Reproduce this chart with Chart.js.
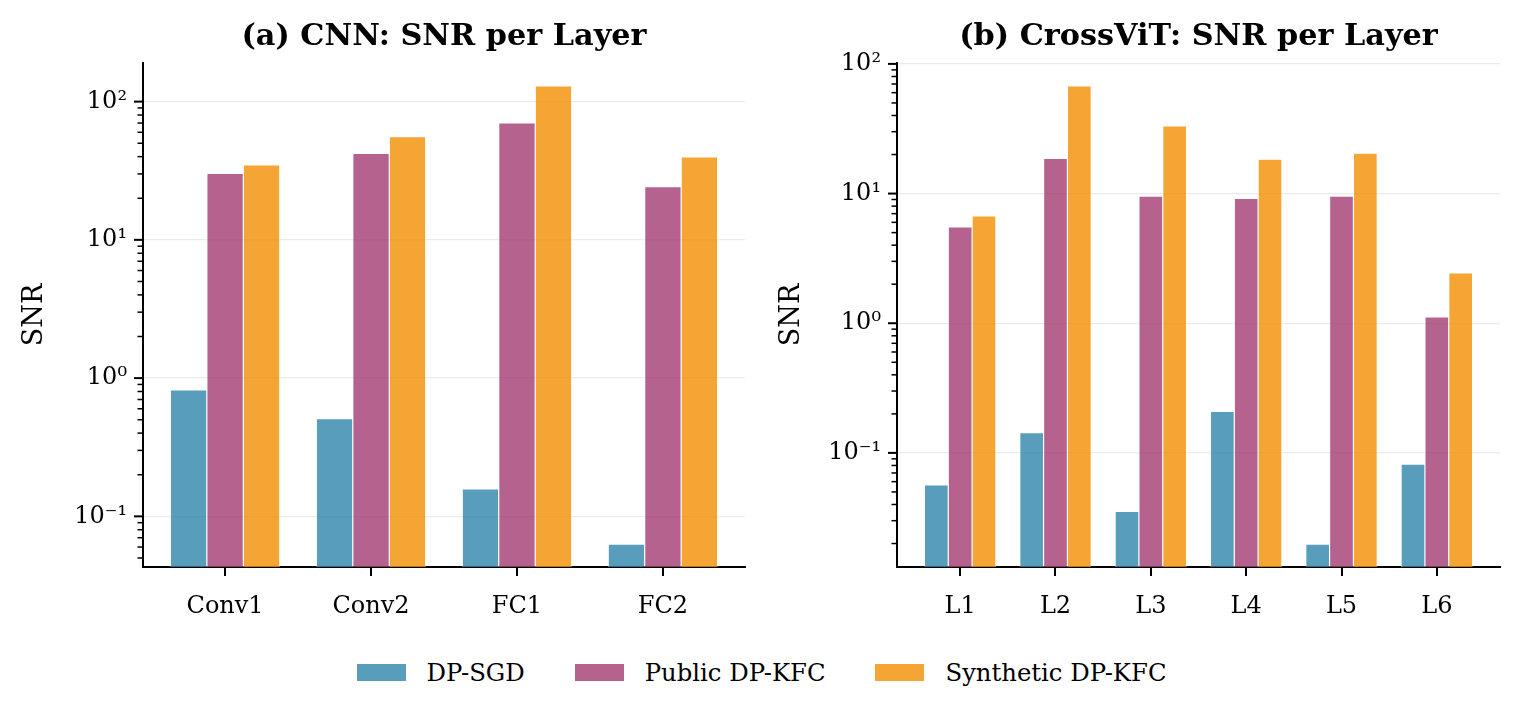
<!DOCTYPE html>
<html>
<head>
<meta charset="utf-8">
<script src="https://cdn.jsdelivr.net/npm/chart.js@4.4.1/dist/chart.umd.min.js"></script>
<style>
    body { margin: 0; background: #fff; }
    #figure { position: relative; width: 1523px; height: 719px; font-family: 'DejaVu Serif', serif; }
    .panel { position: absolute; top: 0; }
    #legend {
        position: absolute; left: 0; top: 659px; width: 1523px; height: 27px;
        display: flex; justify-content: center; align-items: center;
        font-size: 24.3px; color: #000;
    }
    .legend-item { display: flex; align-items: center; margin: 0 25px; }
    .legend-box { width: 49px; height: 17px; margin-right: 21px; }
</style>
</head>
<body>
<div id="figure">
    <div class="panel" style="left:0"><canvas id="cnnChart" width="761" height="640"></canvas></div>
    <div class="panel" style="left:761px"><canvas id="vitChart" width="762" height="640"></canvas></div>
    <div id="legend"></div>
</div>
<script>
const seriesNames = ['DP-SGD', 'Public DP-KFC', 'Synthetic DP-KFC'];
const seriesColors = ['#2E86AB', '#A23B72', '#F18F01'];

const cnnLayers = ['Conv1', 'Conv2', 'FC1', 'FC2'];
const cnnDpSgd = [0.82, 0.51, 0.158, 0.063];
const cnnPublic = [30.3, 42.2, 70.3, 24.3];
const cnnSynthetic = [34.8, 55.7, 130, 39.9];

const vitLayers = ['L1', 'L2', 'L3', 'L4', 'L5', 'L6'];
const vitDpSgd = [0.0566, 0.1435, 0.0354, 0.209, 0.0198, 0.082];
const vitPublic = [5.54, 18.7, 9.57, 9.18, 9.57, 1.12];
const vitSynthetic = [6.72, 67.7, 33.2, 18.4, 20.5, 2.44];

const FONT = 'DejaVu Serif';
const SUP = { '-': '\u207B', '0': '\u2070', '1': '\u00B9', '2': '\u00B2', '3': '\u00B3',
    '4': '\u2074', '5': '\u2075', '6': '\u2076', '7': '\u2077', '8': '\u2078', '9': '\u2079' };

function isDecade(v) {
    const l = Math.log10(v);
    return Math.abs(l - Math.round(l)) < 1e-9;
}

function decadeLabel(v) {
    const exp = String(Math.round(Math.log10(v)));
    return '10' + exp.split('').map(c => SUP[c]).join('');
}

// matplotlib-like 5% margins in log space
function logLimits(values) {
    const logs = values.map(Math.log10);
    const lo = Math.min(...logs), hi = Math.max(...logs);
    const m = (hi - lo) * 0.05;
    return [Math.pow(10, lo - m), Math.pow(10, hi + m)];
}

function logTicks(min, max) {
    const ticks = [];
    for (let e = Math.floor(Math.log10(min)); e <= Math.ceil(Math.log10(max)); e++) {
        for (let j = 1; j <= 9; j++) {
            const v = j * Math.pow(10, e);
            if (v >= min * 0.9999 && v <= max * 1.0001) ticks.push({ value: v, major: j === 1 });
        }
    }
    return ticks;
}

const tickMarks = {
    id: 'tickMarks',
    afterDraw(chart) {
        const { ctx, scales: { x, y } } = chart;
        ctx.save();
        ctx.strokeStyle = '#000';
        ctx.lineWidth = 2;
        x.ticks.forEach(t => {
            const px = Math.round(x.getPixelForValue(t.value));
            ctx.beginPath();
            ctx.moveTo(px, x.top);
            ctx.lineTo(px, x.top + 9);
            ctx.stroke();
        });
        y.ticks.forEach(t => {
            const py = y.getPixelForValue(t.value);
            const major = isDecade(t.value);
            ctx.lineWidth = major ? 2 : 1.5;
            ctx.beginPath();
            ctx.moveTo(y.right, py);
            ctx.lineTo(y.right - (major ? 9 : 5.5), py);
            ctx.stroke();
        });
        ctx.restore();
    }
};

function barChart(id, title, cats, series, layout) {
    const n = cats.length;
    const [yMin, yMax] = logLimits(series.flat());
    const xPad = 0.05 * (n - 1 + 0.75);

    new Chart(document.getElementById(id), {
        type: 'bar',
        data: {
            datasets: series.map((vals, k) => ({
                label: seriesNames[k],
                data: vals.map((v, i) => ({ x: i, y: v })),
                backgroundColor: seriesColors[k] + 'CC',
                borderColor: 'rgba(255, 255, 255, 0.8)',
                borderWidth: 0.6,
                borderSkipped: 'start',
                categoryPercentage: 0.75,
                barPercentage: 1.0
            }))
        },
        options: {
            responsive: false,
            animation: false,
            events: [],
            layout: { padding: { left: 0, right: layout.padRight, top: 0, bottom: 0 } },
            plugins: {
                legend: { display: false },
                tooltip: { enabled: false },
                title: {
                    display: true,
                    text: title,
                    color: '#000',
                    fullSize: false,
                    font: { family: FONT, size: 30.3, weight: 'bold', lineHeight: 1.2 },
                    padding: { top: 19.3, bottom: 7.3 }
                }
            },
            scales: {
                x: {
                    type: 'linear',
                    min: -0.375 - xPad,
                    max: n - 1 + 0.375 + xPad,
                    offset: false,
                    grid: { display: false, offset: false },
                    border: { display: true, color: '#000', width: 2 },
                    afterBuildTicks: axis => { axis.ticks = cats.map((c, i) => ({ value: i })); },
                    afterFit: axis => { axis.height = 73; },
                    ticks: {
                        autoSkip: false,
                        maxRotation: 0,
                        padding: 17,
                        color: '#000',
                        font: { family: FONT, size: 24 },
                        callback: v => cats[v]
                    }
                },
                y: {
                    type: 'logarithmic',
                    min: yMin,
                    max: yMax,
                    bounds: 'data',
                    grid: {
                        drawTicks: false,
                        lineWidth: 1.3,
                        color: c => (c.tick && isDecade(c.tick.value)) ? '#ebebeb' : 'rgba(0,0,0,0)'
                    },
                    border: { display: true, color: '#000', width: 2 },
                    afterBuildTicks: axis => { axis.ticks = logTicks(yMin, yMax); },
                    afterFit: axis => { axis.width = layout.yWidth; },
                    title: {
                        display: true,
                        text: 'SNR',
                        color: '#000',
                        font: { family: FONT, size: 27, lineHeight: 1.2 },
                        padding: { top: layout.titlePad, bottom: 0 }
                    },
                    ticks: {
                        autoSkip: false,
                        padding: 16,
                        color: '#000',
                        font: { family: FONT, size: 24 },
                        callback: v => isDecade(v) ? decadeLabel(v) : ''
                    }
                }
            }
        },
        plugins: [tickMarks]
    });
}

function initLegend() {
    const legend = document.getElementById('legend');
    seriesNames.forEach((name, k) => {
        const item = document.createElement('div');
        item.className = 'legend-item';
        const box = document.createElement('span');
        box.className = 'legend-box';
        box.style.background = seriesColors[k] + 'CC';
        const label = document.createElement('span');
        label.textContent = name;
        item.appendChild(box);
        item.appendChild(label);
        legend.appendChild(item);
    });
}

document.addEventListener('DOMContentLoaded', () => {
    barChart('cnnChart', '(a) CNN: SNR per Layer', cnnLayers,
        [cnnDpSgd, cnnPublic, cnnSynthetic], { yWidth: 143, padRight: 16, titlePad: 19 });
    barChart('vitChart', '(b) CrossViT: SNR per Layer', vitLayers,
        [vitDpSgd, vitPublic, vitSynthetic], { yWidth: 136, padRight: 23, titlePad: 15 });
    initLegend();
});
</script>
</body>
</html>
